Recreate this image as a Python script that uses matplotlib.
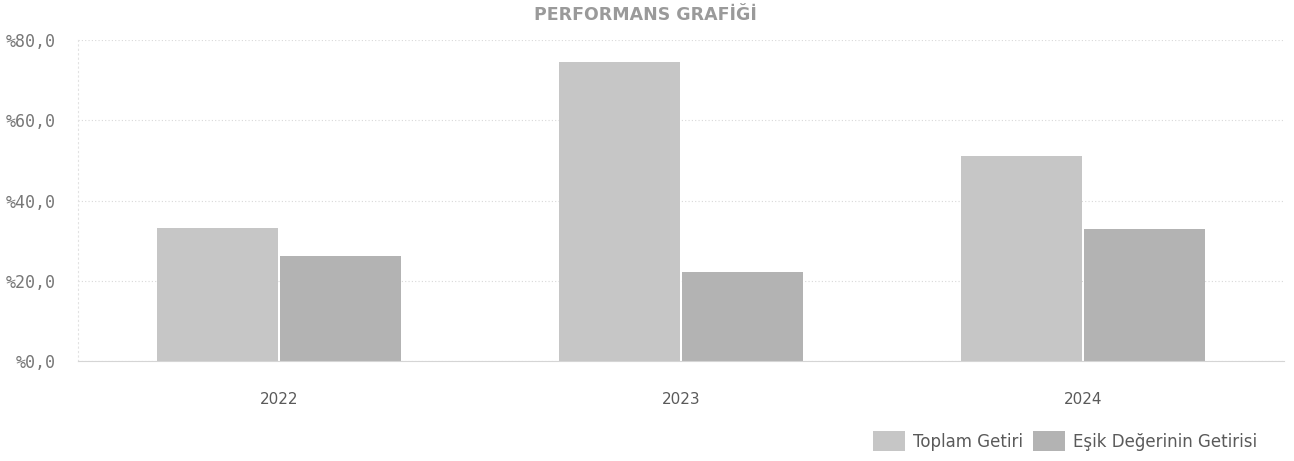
import matplotlib
matplotlib.use("Agg")
import matplotlib.pyplot as plt
import numpy as np

years = ["2022", "2023", "2024"]
toplam_getiri = [33.2, 74.5, 51.0]
esik_getiri = [26.2, 22.2, 32.8]
yticks = [0, 20, 40, 60, 80]
ytick_labels = ["%0,0", "%20,0", "%40,0", "%60,0", "%80,0"]

c_toplam = "#c6c6c6"
c_esik = "#b3b3b3"
txt = "#5a5a5a"

fig = plt.figure(figsize=(12.94, 4.61), dpi=100)
ax = fig.add_axes([78/1294, 1-361/461, 1206/1294, 321/461])

x = np.arange(len(years))
w = 0.30
ax.bar(x - w/2 - 0.003, toplam_getiri, width=w, color=c_toplam, label="Toplam Getiri", zorder=2)
ax.bar(x + w/2 + 0.003, esik_getiri, width=w, color=c_esik, label="Eşik Değerinin Getirisi", zorder=2)

ax.set_xlim(-0.5, 2.5)
ax.set_ylim(0, 80)
ax.set_yticks(yticks)
ax.set_yticklabels(ytick_labels)
ax.set_xticks(x)
ax.set_xticklabels(years)
ax.tick_params(axis="both", length=0, colors=txt)
ax.tick_params(axis="x", pad=22, labelsize=11)
ax.tick_params(axis="y", pad=16, labelsize=12)
for t in ax.get_yticklabels():
    t.set_family("DejaVu Sans Mono")
    t.set_color("#777777")

ax.grid(axis="y", color="#d8d8d8", linestyle=(0, (1, 2)), linewidth=0.8, zorder=0)
for s in ["top", "right"]:
    ax.spines[s].set_visible(False)
ax.spines["left"].set_color("#e2e2e2")
ax.spines["left"].set_linestyle((0, (1, 3)))
ax.spines["bottom"].set_color("#d5d5d5")
ax.spines["bottom"].set_linewidth(0.8)

fig.text(645/1294, 1-15/461, "PERFORMANS GRAFİĞİ", ha="center", va="center",
         fontsize=12.5, fontweight="bold", color="#9a9a9a")

leg = ax.legend(loc="center right", bbox_to_anchor=(1272/1294, 1-441/461),
                bbox_transform=fig.transFigure, ncol=2, frameon=False,
                fontsize=12, handlelength=1.9, handleheight=1.5,
                handletextpad=0.5, columnspacing=0.6)
for t in leg.get_texts():
    t.set_color(txt)

fig.savefig("out.png", dpi=100, facecolor="white")
